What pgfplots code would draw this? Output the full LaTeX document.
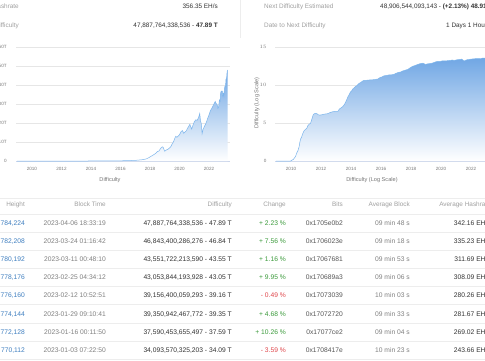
\documentclass[border=0pt]{standalone}
\usepackage{pgfplots}
\pgfplotsset{compat=1.18}
\usepackage{fontspec}
\setmainfont{Liberation Sans}
\definecolor{linec}{HTML}{7CB5EC}
\definecolor{fillc}{HTML}{6FA6E4}
\definecolor{gridc}{HTML}{E6E6E6}
\definecolor{axisc}{HTML}{CCD6EB}
\definecolor{labc}{HTML}{777777}
\definecolor{hdrc}{HTML}{A0A0A0}
\definecolor{linkc}{HTML}{3F7FC0}
\definecolor{greenc}{HTML}{3A9A3A}
\definecolor{redc}{HTML}{E0464B}
\definecolor{sepc}{HTML}{EDEDED}
\definecolor{darkc}{HTML}{333333}
\definecolor{timec}{HTML}{808080}
\definecolor{bitc}{HTML}{555555}
\newcommand\tickfont{\fontsize{4.6}{5}\selectfont}
\newcommand\titlefont{\fontsize{5.6}{6}\selectfont}
\newcommand\tabfont{\fontsize{6.7}{7}\selectfont}
\newcommand\hdrfont{\fontsize{6.4}{7}\selectfont}

\pgfplotstableread{
year val
2009.00 0
2013.00 0.000003
2014.00 0.0012
2015.00 0.04
2016.00 0.105
2016.50 0.2
2017.00 0.33
2017.25 0.5
2017.50 0.7
2017.75 1.1
2017.95 1.9
2018.10 2.6
2018.25 3.3
2018.40 4.1
2018.50 5.0
2018.60 5.2
2018.70 6.4
2018.78 7.2
2018.85 7.45
2018.90 7.1
2018.95 6.0
2019.00 5.1
2019.10 5.8
2019.20 6.1
2019.30 6.7
2019.40 7.4
2019.50 9.0
2019.60 10.2
2019.68 12.0
2019.75 13.0
2019.82 12.5
2019.90 13.0
2020.00 13.8
2020.10 15.5
2020.20 16.0
2020.28 14.6
2020.35 15.1
2020.45 15.8
2020.55 17.3
2020.70 19.3
2020.82 16.8
2020.90 18.6
2021.00 20.6
2021.10 21.7
2021.20 21.4
2021.30 23.1
2021.37 25.0
2021.42 21.0
2021.47 19.9
2021.53 14.4
2021.60 16.8
2021.70 18.4
2021.80 20.0
2021.90 22.3
2022.00 24.3
2022.10 26.6
2022.20 27.9
2022.32 29.8
2022.42 31.3
2022.48 30.3
2022.55 29.6
2022.60 27.7
2022.65 28.4
2022.70 32.0
2022.75 31.4
2022.78 35.6
2022.83 36.8
2022.90 36.8
2022.93 34.2
2022.97 35.4
2023.005 34.09
2023.04 37.59
2023.077 39.35
2023.115 39.16
2023.15 43.05
2023.19 43.55
2023.225 46.84
2023.26 47.89
}\lindata

\pgfplotstableread{
year val
2009.00 0
2009.97 0
2010.02 0.07
2010.15 0.2
2010.30 0.6
2010.38 1.06
2010.46 1.36
2010.54 1.9
2010.58 2.4
2010.64 2.9
2010.70 3.14
2010.78 3.6
2010.86 3.95
2010.96 4.16
2011.05 4.3
2011.12 4.65
2011.20 4.83
2011.30 4.96
2011.37 5.4
2011.42 5.7
2011.47 6.05
2011.55 6.22
2011.63 6.26
2011.72 6.24
2011.80 6.1
2011.90 6.04
2012.00 6.06
2012.20 6.16
2012.45 6.23
2012.62 6.39
2012.78 6.48
2012.96 6.53
2013.12 6.52
2013.22 6.83
2013.30 6.95
2013.38 7.04
2013.46 7.18
2013.55 7.41
2013.63 7.70
2013.71 8.05
2013.79 8.43
2013.87 8.71
2013.96 9.07
2014.05 9.25
2014.13 9.50
2014.21 9.63
2014.29 9.79
2014.38 9.90
2014.46 10.07
2014.54 10.23
2014.62 10.29
2014.71 10.43
2014.79 10.54
2014.87 10.60
2014.96 10.60
2015.12 10.64
2015.29 10.67
2015.46 10.69
2015.62 10.72
2015.71 10.77
2015.79 10.79
2015.87 10.90
2015.96 11.01
2016.05 11.05
2016.21 11.21
2016.37 11.25
2016.54 11.33
2016.70 11.34
2016.87 11.40
2016.96 11.49
2017.12 11.64
2017.29 11.70
2017.46 11.85
2017.62 11.95
2017.79 12.05
2017.96 12.29
2018.12 12.46
2018.29 12.58
2018.46 12.71
2018.62 12.81
2018.80 12.87
2018.96 12.71
2019.12 12.78
2019.29 12.83
2019.46 12.90
2019.62 13.03
2019.79 13.11
2019.96 13.11
2020.12 13.19
2020.29 13.17
2020.46 13.20
2020.62 13.24
2020.79 13.29
2020.86 13.23
2020.96 13.27
2021.12 13.33
2021.29 13.36
2021.37 13.40
2021.45 13.30
2021.53 13.16
2021.62 13.23
2021.70 13.30
2021.79 13.34
2021.87 13.35
2021.96 13.39
2022.12 13.43
2022.29 13.46
2022.46 13.48
2022.62 13.45
2022.79 13.55
2022.93 13.53
2023.12 13.59
2023.26 13.68
}\logdata

\newcommand\trow[9]{%
  \node[anchor=base east, text=linkc] at (25,#1) {#2};
  \node[anchor=base east, text=timec] at (106,#1) {#3};
  \node[anchor=base east, text=darkc] at (232,#1) {#4};
  \node[anchor=base east, text=#6] at (286,#1) {#5};
  \node[anchor=base east, text=bitc] at (343,#1) {#7};
  \node[anchor=base east, text=timec] at (410,#1) {#8};
  \node[anchor=base east, text=darkc] at (491,#1) {#9};
}

\begin{document}
\begin{tikzpicture}[x=1pt,y=1pt]
\useasboundingbox (0,0) rectangle (485,360);
\begin{scope}
\clip (0,0) rectangle (485,360);
\fill[white] (0,0) rectangle (485,360);

% header info
\begin{scope}[inner sep=0pt, font=\hdrfont]
\node[anchor=base east, text=hdrc] at (19,351.8) {Hashrate};
\node[anchor=base east, text=hdrc] at (19,332.8) {Difficulty};
\node[anchor=base east, text=darkc] at (218,351.8) {356.35 EH/s};
\node[anchor=base east, text=darkc] at (218,332.8) {47,887,764,338,536 - \textbf{47.89 T}};
\node[anchor=base west, text=hdrc] at (264,351.8) {Next Difficulty Estimated};
\node[anchor=base west, text=hdrc] at (264,332.8) {Date to Next Difficulty};
\node[anchor=base west, text=darkc] at (380,351.8) {48,906,544,093,143 - \textbf{(+2.13\%) 48.91 T}};
\node[anchor=base west, text=darkc] at (446,332.8) {1 Days 1 Hours};
\end{scope}
\draw[sepc, line width=0.5pt] (240,360) -- (240,322);

% left chart
\begin{axis}[at={(16pt,199pt)}, anchor=south west, scale only axis,
  width=214pt, height=114pt,
  xmin=2008.92, xmax=2023.42, ymin=0, ymax=60,
  axis line style={draw=none}, major tick length=0pt,
  ytick={10,20,30,40,50,60}, yticklabels={10T,20T,30T,40T,50T,60T},
  extra y ticks={0}, extra y tick labels={0},
  extra y tick style={grid style={draw=axisc, line width=0.5pt}},
  xtick={2010,2012,2014,2016,2018,2020,2022},
  xticklabels={2010,2012,2014,2016,2018,2020,2022},
  ymajorgrids, grid style={draw=gridc, line width=0.5pt},
  tick label style={font=\tickfont, text=labc},
  yticklabel style={xshift=-5.8pt},
  xticklabel style={yshift=-3pt}]
\addplot[draw=none, top color=fillc, bottom color=white] table[x=year,y=val] {\lindata} \closedcycle;
\addplot[draw=linec, line width=0.5pt, mark=none] table[x=year,y=val] {\lindata};
\end{axis}
\node[font=\titlefont, text=labc] at (110,180) {Difficulty};

% right chart
\begin{axis}[at={(275pt,199pt)}, anchor=south west, scale only axis,
  width=214pt, height=114pt,
  xmin=2008.93, xmax=2023.2, ymin=0, ymax=15,
  axis line style={draw=none}, major tick length=0pt,
  ytick={5,10,15},
  extra y ticks={0}, extra y tick labels={0},
  extra y tick style={grid style={draw=axisc, line width=0.5pt}},
  xtick={2010,2012,2014,2016,2018,2020,2022},
  xticklabels={2010,2012,2014,2016,2018,2020,2022},
  ymajorgrids, grid style={draw=gridc, line width=0.5pt},
  tick label style={font=\tickfont, text=labc},
  yticklabel style={xshift=-5pt},
  xticklabel style={yshift=-3pt}]
\addplot[draw=none, top color=fillc, bottom color=white] table[x=year,y=val] {\logdata} \closedcycle;
\addplot[draw=linec, line width=0.5pt, mark=none] table[x=year,y=val] {\logdata};
\end{axis}
\node[font=\titlefont, text=labc] at (372,180) {Difficulty (Log Scale)};
\node[font=\titlefont, text=labc, rotate=90] at (257,257) {Difficulty (Log Scale)};

% table
\draw[sepc, line width=0.5pt] (0,162) -- (485,162);
\foreach \i in {0,...,8} {
  \draw[sepc, line width=0.5pt] (0,{146-18.14*\i}) -- (485,{146-18.14*\i});
}
\begin{scope}[inner sep=0pt, font=\hdrfont]
\node[anchor=base east, text=hdrc] at (25,153.7) {Height};
\node[anchor=base east, text=hdrc] at (106,153.7) {Block Time};
\node[anchor=base east, text=hdrc] at (232,153.7) {Difficulty};
\node[anchor=base east, text=hdrc] at (286,153.7) {Change};
\node[anchor=base east, text=hdrc] at (343,153.7) {Bits};
\node[anchor=base east, text=hdrc] at (410,153.7) {Average Block};
\node[anchor=base east, text=hdrc] at (491,153.7) {Average Hashrate};
\end{scope}
\begin{scope}[inner sep=0pt, font=\tabfont]
\trow{134.6}{784,224}{2023-04-06 18:33:19}{47,887,764,338,536 - 47.89 T}{+ 2.23 \%}{greenc}{0x1705e0b2}{09 min 48 s}{342.16 EH/s}
\trow{116.46}{782,208}{2023-03-24 01:16:42}{46,843,400,286,276 - 46.84 T}{+ 7.56 \%}{greenc}{0x1706023e}{09 min 18 s}{335.23 EH/s}
\trow{98.32}{780,192}{2023-03-11 00:48:10}{43,551,722,213,590 - 43.55 T}{+ 1.16 \%}{greenc}{0x17067681}{09 min 53 s}{311.69 EH/s}
\trow{80.18}{778,176}{2023-02-25 04:34:12}{43,053,844,193,928 - 43.05 T}{+ 9.95 \%}{greenc}{0x170689a3}{09 min 06 s}{308.09 EH/s}
\trow{62.04}{776,160}{2023-02-12 10:52:51}{39,156,400,059,293 - 39.16 T}{- 0.49 \%}{redc}{0x17073039}{10 min 03 s}{280.26 EH/s}
\trow{43.9}{774,144}{2023-01-29 09:10:41}{39,350,942,467,772 - 39.35 T}{+ 4.68 \%}{greenc}{0x17072720}{09 min 33 s}{281.67 EH/s}
\trow{25.76}{772,128}{2023-01-16 00:11:50}{37,590,453,655,497 - 37.59 T}{+ 10.26 \%}{greenc}{0x17077ce2}{09 min 04 s}{269.02 EH/s}
\trow{7.62}{770,112}{2023-01-03 07:22:50}{34,093,570,325,203 - 34.09 T}{- 3.59 \%}{redc}{0x1708417e}{10 min 23 s}{243.66 EH/s}
\end{scope}
\end{scope}
\end{tikzpicture}
\end{document}
